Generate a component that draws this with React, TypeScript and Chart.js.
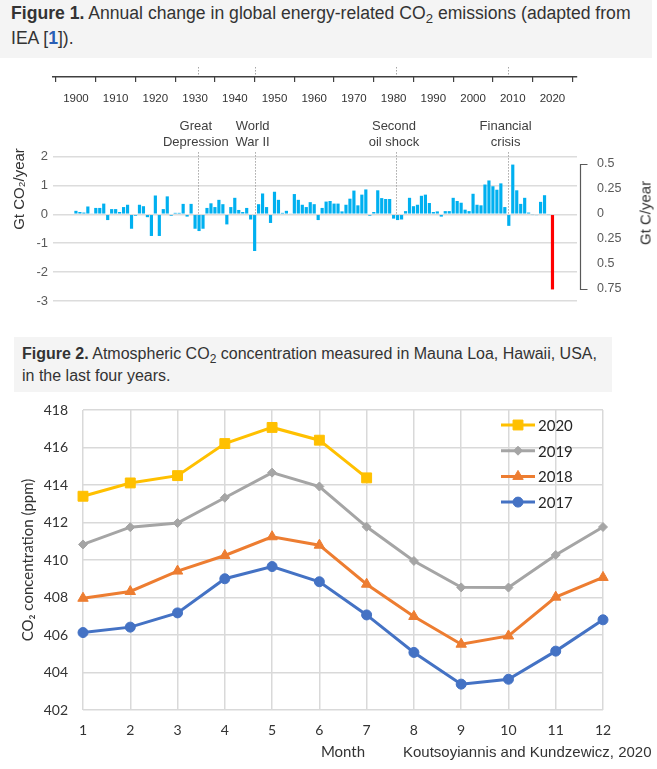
import React, { useEffect, useRef } from 'react';
import { Chart, registerables } from 'chart.js';
import { drawPoint } from 'chart.js/helpers';

Chart.register(...registerables);

// ---------- Figure 1 data ----------
const firstYear = 1900;
// Annual change in energy-related CO2 emissions, Gt CO2/year, 1900..2020
const emissionChange = [
  0.12, 0.08, 0.06, 0.27, 0.03, 0.22, 0.22, 0.37, -0.2, 0.18,
  0.18, 0.08, 0.25, 0.33, -0.5, -0.05, 0.33, 0.28, -0.1, -0.75,
  0.65, -0.75, 0.18, 0.62, -0.05, 0.05, 0.05, 0.36, -0.08, 0.36,
  -0.5, -0.58, -0.5, 0.22, 0.38, 0.25, 0.5, 0.35, -0.35, 0.25,
  0.57, 0.15, 0.08, 0.22, -0.18, -1.27, 0.35, 0.72, 0.25, -0.3,
  0.78, 0.5, 0.05, 0.12, 0.03, 0.7, 0.5, 0.33, 0.25, 0.42,
  0.35, -0.2, 0.22, 0.44, 0.46, 0.37, 0.37, 0.1, 0.33, 0.54,
  0.82, 0.31, 0.68, 0.86, -0.05, 0.08, 0.83, 0.56, 0.53, 0.53,
  -0.15, -0.2, -0.18, 0.11, 0.57, 0.28, 0.33, 0.64, 0.68, 0.39,
  0.08, 0.1, -0.08, 0.11, 0.11, 0.57, 0.46, 0.4, 0.16, 0.11,
  0.71, 0.33, 0.31, 1.03, 1.17, 0.97, 0.85, 1.07, 0.25, -0.4,
  1.72, 0.83, 0.36, 0.57, 0.06, -0.02, -0.03, 0.43, 0.66, -0.02,
  -2.6,
];
const highlightYear = 2020;
const decadeTicks = [1900, 1910, 1920, 1930, 1940, 1950, 1960, 1970, 1980, 1990, 2000, 2010, 2020];
const leftTicks = [-3, -2, -1, 0, 1, 2];
const rightTicks = [-0.75, -0.5, -0.25, 0, 0.25, 0.5];
const eventYears = [1930.7, 1945, 1980.6, 2008.7];
const eventLabels = [
  ['Great', 'Depression'],
  ['World', 'War II'],
  ['Second', 'oil shock'],
  ['Financial', 'crisis'],
];

// ---------- Figure 2 data ----------
const months = ['1', '2', '3', '4', '5', '6', '7', '8', '9', '10', '11', '12'];
const co2Year2020 = [413.4, 414.11, 414.5, 416.21, 417.07, 416.39, 414.38];
const co2Year2019 = [410.83, 411.75, 411.97, 413.32, 414.66, 413.92, 411.77, 409.95, 408.54, 408.53, 410.27, 411.76];
const co2Year2018 = [407.96, 408.32, 409.41, 410.24, 411.24, 410.79, 408.71, 406.99, 405.51, 405.95, 408.02, 409.07];
const co2Year2017 = [406.13, 406.42, 407.18, 409.0, 409.65, 408.84, 407.07, 405.07, 403.38, 403.64, 405.14, 406.81];
const co2Ticks = [402, 404, 406, 408, 410, 412, 414, 416, 418];

const ARIAL = "'Liberation Sans', Arial, sans-serif";
const CALI = "Lato, 'Noto Sans', sans-serif";

const noPad = (s: any) => {
  s.paddingTop = 0;
  s.paddingBottom = 0;
};

const eventsPlugin = {
  id: 'events',
  beforeDatasetsDraw(chart: any) {
    const { ctx, chartArea } = chart;
    const x = chart.scales.x;
    const y = chart.scales.y;
    ctx.save();
    ctx.strokeStyle = '#a6a6a6';
    ctx.lineWidth = 1;
    ctx.setLineDash([1.5, 1.5]);
    eventYears.forEach((yr) => {
      const px = Math.round(x.getPixelForValue(yr)) + 0.5;
      ctx.beginPath();
      ctx.moveTo(px, chartArea.top - 10);
      ctx.lineTo(px, chartArea.top - 1);
      ctx.moveTo(px, y.getPixelForValue(2.15));
      ctx.lineTo(px, y.getPixelForValue(0));
      ctx.stroke();
    });
    ctx.restore();
  },
  afterDraw(chart: any) {
    const { ctx } = chart;
    const x = chart.scales.x;
    const y = chart.scales.y;
    ctx.save();
    ctx.fillStyle = '#404040';
    ctx.font = `13px ${ARIAL}`;
    ctx.textAlign = 'center';
    ctx.textBaseline = 'middle';
    eventYears.forEach((yr, i) => {
      const px = x.getPixelForValue(yr) - 2;
      ctx.fillText(eventLabels[i][0], px, y.getPixelForValue(3.05));
      ctx.fillText(eventLabels[i][1], px, y.getPixelForValue(2.5));
    });
    // right-axis bracket
    const y2 = chart.scales.y2;
    const bx = Math.round(chart.chartArea.right) + 3.5;
    const t = Math.round(y2.getPixelForValue(rightTicks[rightTicks.length - 1])) + 0.5;
    const b = Math.round(y2.getPixelForValue(rightTicks[0])) + 0.5;
    ctx.strokeStyle = '#595959';
    ctx.lineWidth = 1.2;
    ctx.beginPath();
    ctx.moveTo(bx + 7, t);
    ctx.lineTo(bx, t);
    ctx.lineTo(bx, b);
    ctx.lineTo(bx + 7, b);
    ctx.stroke();
    ctx.restore();
  },
};

const insideLegend = {
  id: 'insideLegend',
  afterDraw(chart: any) {
    const { ctx, chartArea } = chart;
    ctx.save();
    chart.data.datasets.forEach((ds: any, i: number) => {
      const yy = chartArea.top + 15 + i * 25.7;
      const x0 = chartArea.right - 102;
      ctx.strokeStyle = ds.borderColor;
      ctx.fillStyle = ds.backgroundColor;
      ctx.lineWidth = ds.borderWidth;
      ctx.beginPath();
      ctx.moveTo(x0, yy);
      ctx.lineTo(x0 + 34, yy);
      ctx.stroke();
      ctx.lineWidth = 1;
      drawPoint(ctx, { pointStyle: ds.pointStyle, radius: ds.pointRadius, rotation: 0, borderWidth: 1 } as any, x0 + 17, yy);
      ctx.fillStyle = '#262626';
      ctx.font = `15px ${CALI}`;
      ctx.textAlign = 'left';
      ctx.textBaseline = 'middle';
      ctx.fillText(ds.label, x0 + 37, yy + 1);
    });
    ctx.restore();
  },
};

function EmissionsChart() {
  const ref = useRef<HTMLCanvasElement>(null);
  useEffect(() => {
    const data = emissionChange.map((v, i) => ({ x: firstYear + i, y: v }));
    const chart = new Chart(ref.current as HTMLCanvasElement, {
      type: 'bar',
      data: {
        datasets: [
          {
            data: data as any,
            backgroundColor: (c: any) => (c.raw && c.raw.x === highlightYear ? '#FF0000' : '#00B0F0'),
            barPercentage: 0.8,
            categoryPercentage: 1,
            yAxisID: 'y',
          },
        ],
      },
      options: {
        animation: false,
        responsive: false,
        maintainAspectRatio: false,
        layout: { padding: { top: 0, left: 0, right: 0, bottom: 14 } },
        plugins: { legend: { display: false }, tooltip: { enabled: false } },
        scales: {
          x: {
            type: 'linear',
            position: 'top',
            min: 1899.3,
            max: 2021.1,
            afterFit: (s: any) => { s.height = 17; s.paddingLeft = 0; s.paddingRight = 0; },
            afterBuildTicks: (s: any) => { s.ticks = decadeTicks.map((v) => ({ value: v })); },
            ticks: {
              mirror: true,
              padding: 15,
              autoSkip: false,
              maxRotation: 0,
              callback: (v: any) => String(v),
              color: '#333333',
              font: { family: ARIAL, size: 11.5 },
            },
            grid: { drawOnChartArea: false, tickLength: -5, color: '#404040', lineWidth: 1.2 },
            border: { display: true, color: '#404040', width: 1.5 },
          },
          y: {
            position: 'left',
            min: -3,
            max: 4.75,
            afterFit: (s: any) => { s.width = 53; noPad(s); },
            afterBuildTicks: (s: any) => { s.ticks = leftTicks.map((v) => ({ value: v })); },
            ticks: { padding: 5, color: '#595959', font: { family: ARIAL, size: 13 }, callback: (v: any) => String(v) },
            grid: { color: '#dcdcdc', lineWidth: 1.5, drawTicks: false },
            border: { display: false },
            title: {
              display: true,
              text: 'Gt CO₂/year',
              color: '#333333',
              font: { family: ARIAL, size: 15 },
              padding: { top: 11, bottom: 0 },
            },
          },
          y2: {
            position: 'right',
            min: -0.873,
            max: 1.367,
            afterFit: (s: any) => { s.width = 80; noPad(s); },
            afterBuildTicks: (s: any) => { s.ticks = rightTicks.map((v) => ({ value: v })); },
            ticks: {
              padding: 20,
              color: '#595959',
              font: { family: ARIAL, size: 12.5 },
              callback: (v: any) => String(Math.abs(Number(v))),
            },
            grid: { display: false, drawTicks: false },
            border: { display: false },
          },
        },
      } as any,
      plugins: [eventsPlugin],
    });
    return () => chart.destroy();
  }, []);
  return <canvas ref={ref} width={657} height={255} style={{ width: 657, height: 255, display: 'block' }} />;
}

function CO2Chart() {
  const ref = useRef<HTMLCanvasElement>(null);
  useEffect(() => {
    const mk = (label: string, data: number[], color: string, pointStyle: string, radius: number) => ({
      label,
      data,
      borderColor: color,
      backgroundColor: color,
      pointBackgroundColor: color,
      pointBorderColor: color,
      borderWidth: 3,
      pointStyle,
      pointRadius: radius,
      pointBorderWidth: 1,
      tension: 0,
    });
    const chart = new Chart(ref.current as HTMLCanvasElement, {
      type: 'line',
      data: {
        labels: months,
        datasets: [
          mk('2020', co2Year2020, '#FFC000', 'rect', 7),
          mk('2019', co2Year2019, '#A5A5A5', 'rectRot', 4.5),
          mk('2018', co2Year2018, '#ED7D31', 'triangle', 6),
          mk('2017', co2Year2017, '#4472C4', 'circle', 5),
        ] as any,
      },
      options: {
        animation: false,
        responsive: false,
        maintainAspectRatio: false,
        layout: { padding: { left: 10, right: 54, top: 15, bottom: 0 } },
        plugins: { legend: { display: false }, tooltip: { enabled: false } },
        scales: {
          x: {
            offset: false,
            afterFit: (s: any) => { s.height = 59; s.paddingLeft = 0; s.paddingRight = 0; },
            ticks: { padding: 12, color: '#333333', font: { family: CALI, size: 14 }, maxRotation: 0, autoSkip: false },
            grid: { color: '#d9d9d9', lineWidth: 1.5, drawTicks: false },
            border: { display: false },
            title: {
              display: true,
              text: 'Month',
              color: '#333333',
              font: { family: CALI, size: 15 },
              padding: { top: 0, bottom: 8 },
            },
          },
          y: {
            min: 402,
            max: 418,
            afterFit: (s: any) => { s.width = 73; noPad(s); },
            afterBuildTicks: (s: any) => { s.ticks = co2Ticks.map((v) => ({ value: v })); },
            ticks: { padding: 15, color: '#333333', font: { family: CALI, size: 14 } },
            grid: { color: '#d9d9d9', lineWidth: 1.5, drawTicks: false },
            border: { display: false },
            title: {
              display: true,
              text: 'CO₂ concentration (ppm)',
              color: '#333333',
              font: { family: CALI, size: 15 },
              padding: { top: 9, bottom: 0 },
            },
          },
        },
      } as any,
      plugins: [insideLegend],
    });
    return () => chart.destroy();
  }, []);
  return <canvas ref={ref} width={657} height={374} style={{ width: 657, height: 374, display: 'block' }} />;
}

const subStyle: React.CSSProperties = { fontSize: '0.75em', verticalAlign: '-0.3em', lineHeight: 0 };

export default function App() {
  return (
    <div style={{ position: 'absolute', left: 0, top: 0, width: 657, height: 769, background: '#fff', overflow: 'hidden' }}>
      <div style={{ position: 'absolute', left: 0, top: 0, width: 652, height: 58, background: '#f4f4f4' }}>
        <div
          style={{
            position: 'absolute', left: 11, top: 1, fontFamily: ARIAL, fontSize: 17.6, lineHeight: '25px',
            color: '#333', whiteSpace: 'nowrap',
          }}
        >
          <b>Figure 1.</b> Annual change in global energy-related CO<sub style={subStyle}>2</sub> emissions (adapted from
          <br />
          IEA [<b style={{ color: '#2b5fb4' }}>1</b>]).
        </div>
      </div>

      <div style={{ position: 'absolute', left: 0, top: 60 }}>
        <EmissionsChart />
      </div>
      <div
        style={{
          position: 'absolute', left: 645, top: 213, transform: 'translate(-50%, -50%) rotate(-90deg)',
          fontFamily: ARIAL, fontSize: 15, color: '#333', whiteSpace: 'nowrap',
        }}
      >
        Gt C/year
      </div>

      <div style={{ position: 'absolute', left: 14, top: 337, width: 598, height: 55, background: '#f4f4f4' }}>
        <div
          style={{
            position: 'absolute', left: 8, top: 6, fontFamily: ARIAL, fontSize: 16, lineHeight: '22px',
            color: '#333', whiteSpace: 'nowrap',
          }}
        >
          <b>Figure 2.</b> Atmospheric CO<sub style={subStyle}>2</sub> concentration measured in Mauna Loa, Hawaii, USA,
          <br />
          in the last four years.
        </div>
      </div>

      <div style={{ position: 'absolute', left: 0, top: 395 }}>
        <CO2Chart />
      </div>
      <div
        style={{
          position: 'absolute', left: 403, top: 743, fontFamily: ARIAL, fontSize: 15, lineHeight: '18px',
          color: '#333', whiteSpace: 'nowrap',
        }}
      >
        Koutsoyiannis and Kundzewicz, 2020
      </div>
    </div>
  );
}
